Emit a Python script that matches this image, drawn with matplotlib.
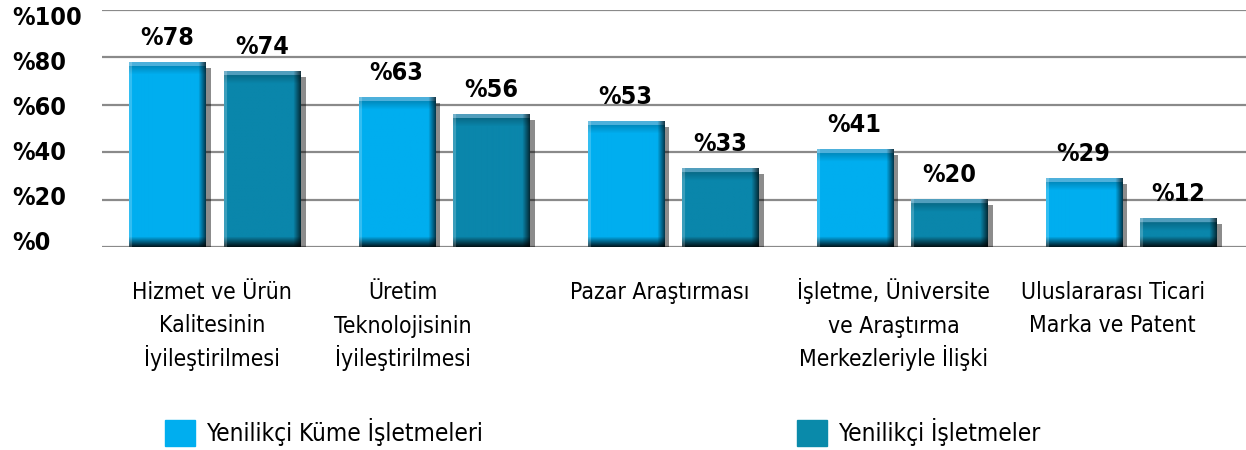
import numpy as np
import matplotlib
matplotlib.use('Agg')
from matplotlib import pyplot as plt
from matplotlib import colors as mcolors
from matplotlib import transforms
from matplotlib.patches import Patch
import matplotlib.patheffects as pe

plt.rcParams['font.family'] = ['DejaVu Sans']
plt.rcParams['font.stretch'] = 'condensed'

# data
categories = [['Hizmet ve Ürün', 'Kalitesinin', 'İyileştirilmesi'],
              ['Üretim', 'Teknolojisinin', 'İyileştirilmesi'],
              ['Pazar Araştırması'],
              ['İşletme, Üniversite', 've Araştırma', 'Merkezleriyle İlişki'],
              ['Uluslararası Ticari', 'Marka ve Patent']]
series_names = ['Yenilikçi Küme İşletmeleri', 'Yenilikçi İşletmeler']
kume = [78, 63, 53, 41, 29]
isletme = [74, 56, 33, 20, 12]
yticks = [0, 20, 40, 60, 80, 100]

colors = ['#00aeef', '#0a86ab']
legend_colors = ['#00aeef', '#0a8aaa']

fig = plt.figure(figsize=(12.46, 4.5), dpi=100)
ax = fig.add_axes([102/1246, 1 - 247/450, 1 - 102/1246, 237/450])

x = np.arange(len(categories))
w = 0.332
off = 0.207
px_per_unit = 237 / 100.0


def bevel(color, v):
    # shaded image for one bar, row 0 at the top
    h = max(int(round(v * px_per_unit)), 4)
    wp = 76
    base = np.array(mcolors.to_rgb(color))
    img = np.ones((h, wp, 3)) * base
    k = np.ones((h, wp))
    # top highlight then darker band
    for r in range(min(h, 12)):
        if r < 4:
            img[r] = img[r] * 0.45 + np.array([0.55, 0.7, 0.8]) * 0.55
        else:
            k[r] *= 0.8 + 0.2 * (r - 4) / 8.0
    # bottom dark band
    nb = min(10, h // 2)
    for r in range(nb):
        k[h - 1 - r] *= 0.15 + 0.85 * r / nb
    # right edge darker, left edge lighter
    for c in range(7):
        k[:, wp - 1 - c] *= 0.35 + 0.65 * c / 7.0
    img = img * k[:, :, None]
    img[:, :3] = img[:, :3] * 0.8 + 0.2
    return np.clip(img, 0, 1)


# gridlines
for t in yticks:
    ax.axhline(t, color='#8a8a8a', lw=1.6, zorder=0)

shadow = [pe.SimplePatchShadow(offset=(4, -4), shadow_rgbFace='black', alpha=0.45)]
for vals, dx, c in [(kume, -off, colors[0]), (isletme, off, colors[1])]:
    ax.bar(x + dx, vals, w, color='none', zorder=1, path_effects=shadow)
    ax.bar(x + dx, vals, w, color=c, zorder=2, lw=0)
    for xi, v in zip(x + dx, vals):
        ax.imshow(bevel(c, v), extent=(xi - w / 2, xi + w / 2, 0, v), aspect='auto',
                  interpolation='bilinear', zorder=3)
        ax.annotate('%' + str(v), (xi, v), xytext=(0, 9), textcoords='offset points',
                    ha='center', va='bottom', fontsize=18, fontweight='bold', zorder=4)

ax.set_xlim(-0.493, 4.502)
ax.set_ylim(0, 100)
ax.set_xticks([])
ax.set_yticks([])
for s in ax.spines.values():
    s.set_visible(False)

# y labels, left aligned at the figure edge
for t in yticks:
    shift = (-7 + 12.5 * t / 100.0) / 100.0
    tr = transforms.blended_transform_factory(fig.transFigure, ax.transData) + \
        transforms.ScaledTranslation(0, -shift, fig.dpi_scale_trans)
    fig.text(12 / 1246, t, '%' + str(t), transform=tr, ha='left', va='center_baseline',
             fontsize=18, fontweight='bold')

# category labels, one line at a time
label_shift = [-0.013, -0.18, -0.06, -0.035, -0.08]
for xi, sh, lines in zip(x, label_shift, categories):
    for i, line in enumerate(lines):
        tr = ax.transData + transforms.ScaledTranslation(0, -(52 + 33.5 * i) / 100.0, fig.dpi_scale_trans)
        ax.text(xi + sh, 0, line, ha='center', va='baseline', fontsize=16.5,
                transform=tr, clip_on=False)

handles = [Patch(color=legend_colors[0]), Patch(color=legend_colors[1])]
fig.legend(handles, series_names, loc='lower left', bbox_to_anchor=(165/1246, 4/450),
           ncol=2, frameon=False, fontsize=17.5, handlelength=1.25, handleheight=1.25,
           handletextpad=0.45, columnspacing=12.9, borderpad=0, borderaxespad=0)

fig.savefig('out.png', dpi=100)
